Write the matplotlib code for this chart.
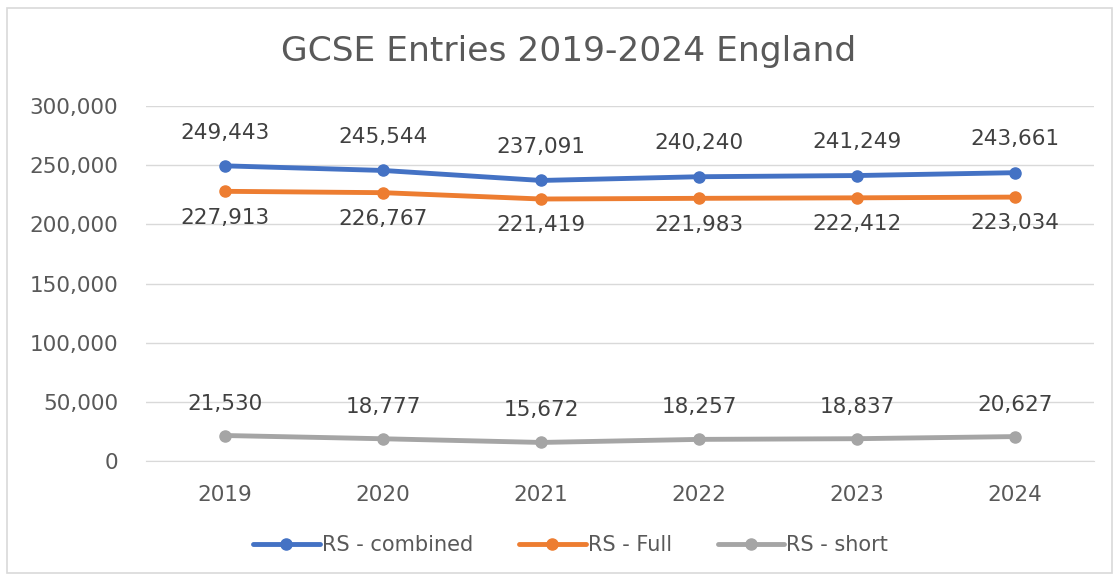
import matplotlib.pyplot as plt
from matplotlib.patches import Rectangle
from matplotlib.ticker import FuncFormatter

years = ['2019', '2020', '2021', '2022', '2023', '2024']
combined = [249443, 245544, 237091, 240240, 241249, 243661]
full = [227913, 226767, 221419, 221983, 222412, 223034]
short = [21530, 18777, 15672, 18257, 18837, 20627]

plt.rcParams['font.family'] = ['DejaVu Sans']
txt = '#595959'

fig = plt.figure(figsize=(11.19, 5.8), dpi=100)
ax = fig.add_axes([0.1305, 0.2052, 0.8472, 0.612])

fig.patches.append(Rectangle((0.006, 0.012), 0.988, 0.975, transform=fig.transFigure,
                             fill=False, edgecolor='#d9d9d9', linewidth=1.2))

x = list(range(len(years)))
series = [
    ('RS - combined', combined, '#4472C4', 24),
    ('RS - Full', full, '#ED7D31', -19),
    ('RS - short', short, '#A5A5A5', 23),
]
for name, vals, col, off in series:
    ax.plot(x, vals, color=col, lw=3.5, marker='o', ms=8, label=name,
            solid_capstyle='round')
    for xi, v in zip(x, vals):
        ax.annotate(f'{v:,}', (xi, v), xytext=(0, off), textcoords='offset points',
                    ha='center', va='center', fontsize=15.5, color='#404040')

ax.set_xlim(-0.5, len(years) - 0.5)
ax.set_ylim(0, 300000)
ax.set_yticks(range(0, 300001, 50000))
ax.yaxis.set_major_formatter(FuncFormatter(lambda v, p: f'{int(v):,}'))
ax.set_xticks(x)
ax.set_xticklabels(years)
ax.grid(axis='y', color='#d9d9d9', lw=1)
ax.set_axisbelow(True)
for s in ['top', 'right', 'left']:
    ax.spines[s].set_visible(False)
ax.spines['bottom'].set_color('#d9d9d9')
ax.tick_params(axis='both', length=0, labelsize=15.5, colors=txt)
ax.tick_params(axis='y', pad=20)
ax.tick_params(axis='x', pad=17)

fig.text(0.508, 0.912, 'GCSE Entries 2019-2024 England', ha='center', va='center',
         fontsize=24.8, color=txt)

fig.legend(loc='center', bbox_to_anchor=(0.51, 0.06), ncol=3, frameon=False,
           fontsize=15, labelcolor=txt, handlelength=3.2, handletextpad=0.1,
           columnspacing=2.2)

fig.savefig('out.png', dpi=100)
